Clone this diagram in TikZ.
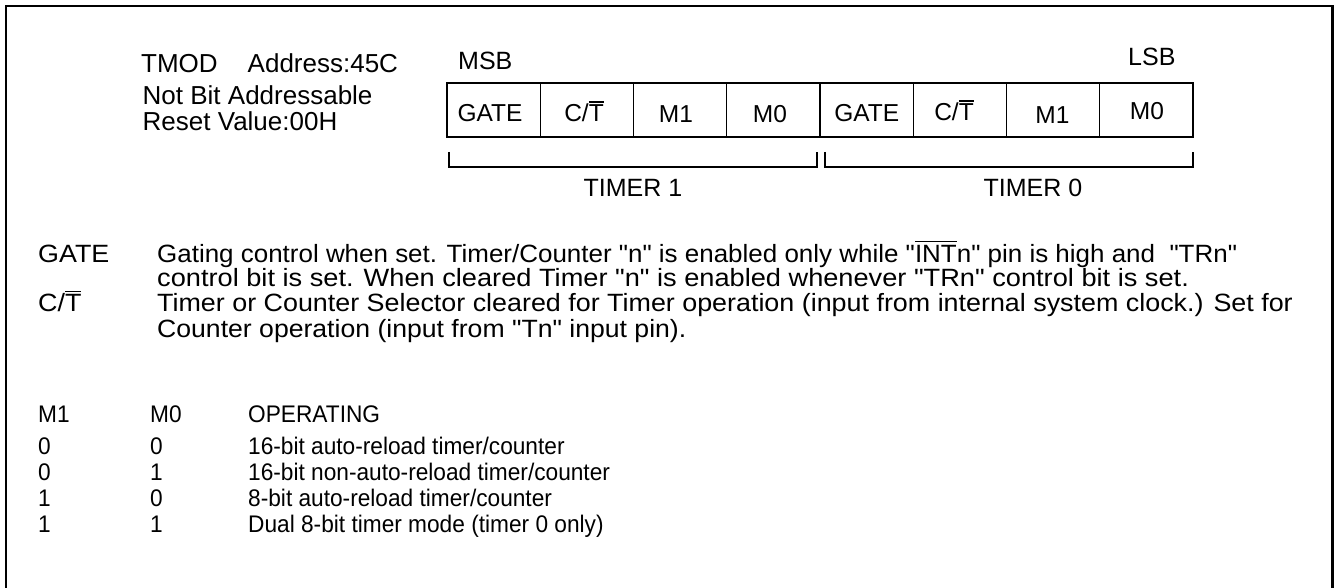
\documentclass[tikz,border=0pt]{standalone}
\usepackage{fontspec}
\setmainfont{Liberation Sans}
\newfontfamily\descfont[FakeStretch=1.075]{Liberation Sans}
\newfontfamily\tblfont[FakeStretch=0.945]{Liberation Sans}
\newcommand\ovbar[1]{\leavevmode\vbox{\hrule height 1.3pt\kern 2.6pt\hbox{#1}}}
\begin{document}
\begin{tikzpicture}[x=1pt,y=-1pt,
  lbl/.style={anchor=base west,inner sep=0pt,font=\fontsize{26}{28}\selectfont},
  hdr/.style={anchor=base west,inner sep=0pt,font=\fontsize{25}{27}\selectfont},
  desc/.style={anchor=base west,inner sep=0pt,font=\descfont\fontsize{25}{25}\selectfont},
  tbl/.style={anchor=base west,inner sep=0pt,font=\tblfont\fontsize{24}{25}\selectfont},
  cell/.style={draw=black,line width=1.2pt,minimum width=93.25pt,minimum height=54pt,inner sep=0pt,outer sep=0pt},
  celltxt/.style={anchor=base,inner sep=0pt,font=\fontsize{24.5}{25}\selectfont},
  brk/.style={line width=1.2pt},
  frame/.style={line width=2.2pt}]
\useasboundingbox (0,0) rectangle (1334,588);
\clip (0,0) rectangle (1334,588);
\draw[frame] (6,600) -- (6,6) -- (1332.5,6) -- (1332.5,600);
% register cells
\foreach \i in {0,...,7} \node[cell] (c\i) at ({447+93.25*\i+46.625},110) {};
\node[celltxt] (t0) at (490,121.5) {GATE};
\node[celltxt] (t1) at (584,122) {C/\ovbar{T}};
\node[celltxt] (t2) at (676,123) {M1};
\node[celltxt] (t3) at (770,123) {M0};
\node[celltxt] (t4) at (866.7,121.5) {GATE};
\node[celltxt] (t5) at (954,121) {C/\ovbar{T}};
\node[celltxt] (t6) at (1052.5,124) {M1};
\node[celltxt] (t7) at (1147,120) {M0};
% brackets
\coordinate (b1a) at (449,152);
\coordinate (b1b) at (817,152);
\coordinate (b0a) at (825,152);
\coordinate (b0b) at (1193,152);
\draw[brk] (b1a) -- ++(0,15) -| (b1b);
\draw[brk] (b0a) -- ++(0,15) -| (b0b);
% labels
\node[hdr] (msb) at (458,70) {MSB};
\node[hdr] (lsb) at (1128,66) {LSB};
\node[lbl] (tmod) at (141,73) {TMOD};
\node[lbl] (addr) at (247.5,72.5) {Address:45C};
\node[lbl] (nba) at (142.5,105) {Not Bit Addressable};
\node[lbl] (rst) at (142.5,131) {Reset Value:00H};
\node[hdr,anchor=base] (tm1) at (633,197) {TIMER 1};
\node[hdr,anchor=base] (tm0) at (1033,197) {TIMER 0};
% descriptions
\node[desc] (gl) at (38,262) {GATE};
\node[desc] (d1) at (157,262) {\scalebox{0.966}[1]{Gating control when set. Timer/Counter "n" is enabled only while "\ovbar{INT}n" pin is high and\ \ "TRn"}};
\node[desc] (d2) at (157,287) {\scalebox{1.012}[1]{control bit is set. When cleared Timer "n" is enabled whenever "TRn" control bit is set.}};
\node[desc] (cl) at (38,312) {C/\ovbar{T}};
\node[desc] (d3) at (157,312) {Timer or Counter Selector cleared for Timer operation (input from internal system clock.) Set for};
\node[desc] (d4) at (157,337) {\scalebox{0.99}[1]{Counter operation (input from "Tn" input pin).}};
% table
\node[tbl] (h1) at (38,422) {M1};
\node[tbl] (h2) at (150,422) {M0};
\node[tbl] (h3) at (248,422) {OPERATING};
\node[tbl] (r1a) at (38,454) {0};
\node[tbl] (r1b) at (150,454) {0};
\node[tbl] (r1c) at (248,454) {16-bit auto-reload timer/counter};
\node[tbl] (r2a) at (38,480) {0};
\node[tbl] (r2b) at (150,480) {1};
\node[tbl] (r2c) at (248,480) {16-bit non-auto-reload timer/counter};
\node[tbl] (r3a) at (38,506) {1};
\node[tbl] (r3b) at (150,506) {0};
\node[tbl] (r3c) at (248,506) {8-bit auto-reload timer/counter};
\node[tbl] (r4a) at (38,532) {1};
\node[tbl] (r4b) at (150,532) {1};
\node[tbl] (r4c) at (248,532) {Dual 8-bit timer mode (timer 0 only)};
\end{tikzpicture}
\end{document}
